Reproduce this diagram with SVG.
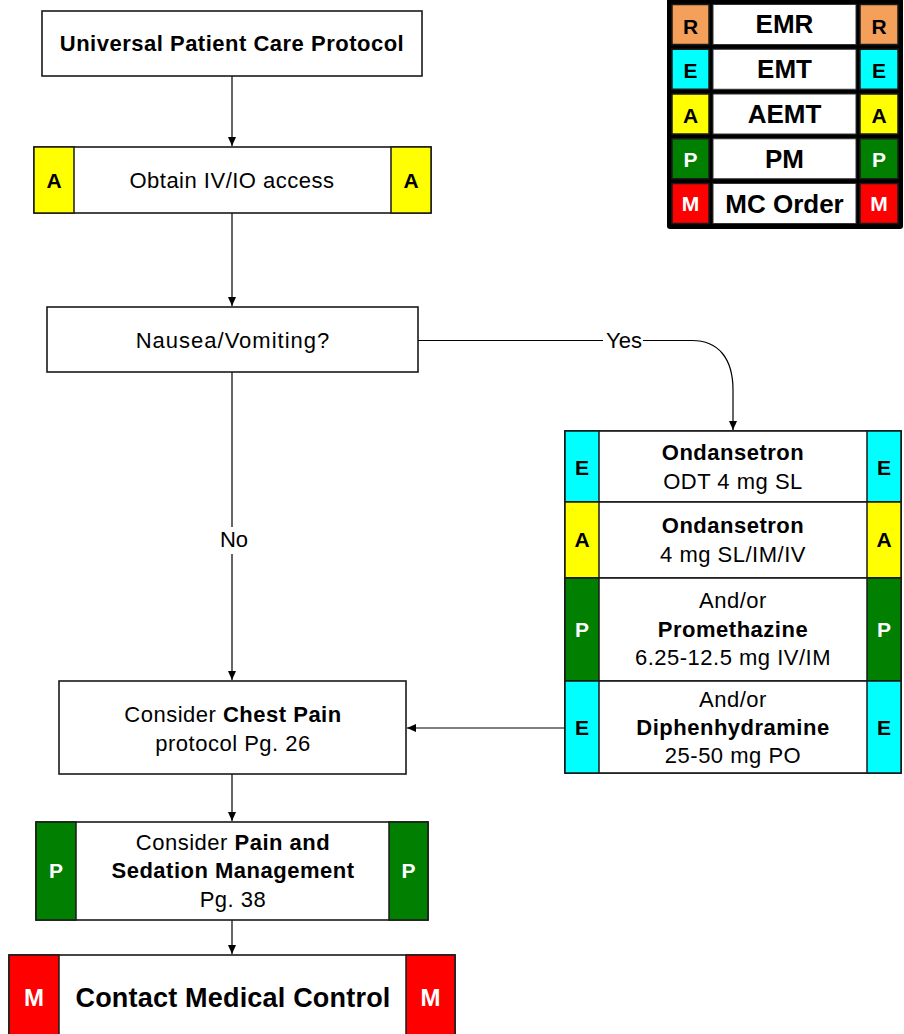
<svg xmlns="http://www.w3.org/2000/svg" width="904" height="1034" viewBox="0 0 904 1034">
<defs>
<marker id="ah" markerWidth="10" markerHeight="10" refX="9" refY="4" orient="auto" markerUnits="userSpaceOnUse">
<path d="M0,0 L9,4 L0,8 Z" fill="#000"/>
</marker>
<style>
text{font-family:"Liberation Sans",Arial,sans-serif;fill:#000;}
.t{font-size:22px;letter-spacing:0.5px;text-anchor:middle;}
.b{font-weight:bold;}
.box{fill:#fff;stroke:#1a1a1a;stroke-width:1.6;}
.bad{font-size:21px;font-weight:bold;text-anchor:middle;}
.w{fill:#fff;}
.cE{fill:#00FFFF;stroke:#1a1a1a;stroke-width:1.5;}
.cA{fill:#FFFF00;stroke:#1a1a1a;stroke-width:1.5;}
.cP{fill:#007F00;stroke:#1a1a1a;stroke-width:1.5;}
.cM{fill:#FF0000;stroke:#1a1a1a;stroke-width:1.5;}
.cR{fill:#F4A05A;stroke:#1a1a1a;stroke-width:1.5;}
.con{fill:none;stroke:#000;stroke-width:1.2;}
.lg{font-size:26px;font-weight:bold;text-anchor:middle;}
.lw{fill:#fff;stroke:#333;stroke-width:1;}
</style>
</defs>

<!-- Legend -->
<g id="legend">
<rect x="667" y="-4" width="236" height="233" rx="3" fill="#000"/>
<rect class="cR" x="672" y="4.5" width="37" height="40"/><rect class="lw" x="713" y="4.5" width="143" height="40"/><rect class="cR" x="860" y="4.5" width="38" height="40"/>
<text class="bad" x="690.5" y="33.5">R</text><text class="lg" x="784.5" y="32.5">EMR</text><text class="bad" x="879" y="33.5">R</text>
<rect class="cE" x="672" y="49.25" width="37" height="40"/><rect class="lw" x="713" y="49.25" width="143" height="40"/><rect class="cE" x="860" y="49.25" width="38" height="40"/>
<text class="bad" x="690.5" y="78">E</text><text class="lg" x="784.5" y="77.5">EMT</text><text class="bad" x="879" y="78">E</text>
<rect class="cA" x="672" y="94" width="37" height="40"/><rect class="lw" x="713" y="94" width="143" height="40"/><rect class="cA" x="860" y="94" width="38" height="40"/>
<text class="bad" x="690.5" y="122.5">A</text><text class="lg" x="784.5" y="122.5">AEMT</text><text class="bad" x="879" y="122.5">A</text>
<rect class="cP" x="672" y="138.75" width="37" height="40"/><rect class="lw" x="713" y="138.75" width="143" height="40"/><rect class="cP" x="860" y="138.75" width="38" height="40"/>
<text class="bad w" x="690.5" y="167">P</text><text class="lg" x="784.5" y="167.5">PM</text><text class="bad w" x="879" y="167">P</text>
<rect class="cM" x="672" y="183.5" width="37" height="40"/><rect class="lw" x="713" y="183.5" width="143" height="40"/><rect class="cM" x="860" y="183.5" width="38" height="40"/>
<text class="bad w" x="690.5" y="211">M</text><text class="lg" x="784.5" y="212.5">MC Order</text><text class="bad w" x="879" y="211">M</text>
</g>

<!-- Connectors -->
<g id="connectors">
<line class="con" x1="232" y1="76" x2="232" y2="146" marker-end="url(#ah)"/>
<line class="con" x1="232" y1="213" x2="232" y2="306" marker-end="url(#ah)"/>
<path class="con" d="M418,340.5 H603 M643,340.5 H692 C718,340.5 733,358 733,390 V430" marker-end="url(#ah)"/>
<text class="t" x="624" y="348" style="letter-spacing:0">Yes</text>
<path class="con" d="M232,372 V527 M232,554 V680" marker-end="url(#ah)"/>
<text class="t" x="234" y="547" style="letter-spacing:0">No</text>
<line class="con" x1="565" y1="728" x2="407" y2="728" marker-end="url(#ah)"/>
<line class="con" x1="232" y1="774" x2="232" y2="821" marker-end="url(#ah)"/>
<line class="con" x1="232" y1="920" x2="232" y2="954" marker-end="url(#ah)"/>
</g>

<g id="n-universal">
<rect class="box" x="42" y="11" width="380" height="65"/>
<text class="t b" x="232" y="51">Universal Patient Care Protocol</text>
</g>

<g id="n-iv">
<rect class="box" x="34" y="147" width="397" height="66"/>
<rect class="cA" x="34" y="147" width="40" height="66"/>
<rect class="cA" x="391" y="147" width="40" height="66"/>
<text class="bad" x="54" y="188">A</text>
<text class="bad" x="411" y="188">A</text>
<text class="t" x="232" y="188">Obtain IV/IO access</text>
</g>

<g id="n-nausea">
<rect class="box" x="47" y="307" width="371" height="65"/>
<text class="t" x="233" y="348" style="letter-spacing:1px">Nausea/Vomiting?</text>
</g>

<g id="n-meds">
<rect class="box" x="565" y="431" width="336" height="342"/>
<rect class="box" x="565" y="431" width="336" height="71"/>
<rect class="cE" x="565" y="431" width="34" height="71"/>
<rect class="cE" x="867" y="431" width="34" height="71"/>
<text class="bad" x="582" y="475">E</text><text class="bad" x="884" y="475">E</text>
<text class="t b" x="733" y="460">Ondansetron</text>
<text class="t" x="733" y="489">ODT 4 mg SL</text>

<rect class="box" x="565" y="502" width="336" height="76"/>
<rect class="cA" x="565" y="502" width="34" height="76"/>
<rect class="cA" x="867" y="502" width="34" height="76"/>
<text class="bad" x="582" y="547">A</text><text class="bad" x="884" y="547">A</text>
<text class="t b" x="733" y="533">Ondansetron</text>
<text class="t" x="733" y="562">4 mg SL/IM/IV</text>

<rect class="box" x="565" y="578" width="336" height="103"/>
<rect class="cP" x="565" y="578" width="34" height="103"/>
<rect class="cP" x="867" y="578" width="34" height="103"/>
<text class="bad w" x="582" y="637">P</text><text class="bad w" x="884" y="637">P</text>
<text class="t" x="733" y="608">And/or</text>
<text class="t b" x="733" y="637">Promethazine</text>
<text class="t" x="733" y="665">6.25-12.5 mg IV/IM</text>

<rect class="box" x="565" y="681" width="336" height="92"/>
<rect class="cE" x="565" y="681" width="34" height="92"/>
<rect class="cE" x="867" y="681" width="34" height="92"/>
<text class="bad" x="582" y="735">E</text><text class="bad" x="884" y="735">E</text>
<text class="t" x="733" y="707">And/or</text>
<text class="t b" x="733" y="735">Diphenhydramine</text>
<text class="t" x="733" y="763">25-50 mg PO</text>
</g>

<g id="n-chest">
<rect class="box" x="59" y="681" width="347" height="93"/>
<text class="t" x="233" y="722">Consider <tspan class="b">Chest Pain</tspan></text>
<text class="t" x="233" y="751">protocol Pg. 26</text>
</g>

<g id="n-pain">
<rect class="box" x="36" y="822" width="392" height="98"/>
<rect class="cP" x="36" y="822" width="40" height="98"/>
<rect class="cP" x="389" y="822" width="39" height="98"/>
<text class="bad w" x="56" y="878">P</text><text class="bad w" x="408.5" y="878">P</text>
<text class="t" x="233" y="850">Consider <tspan class="b">Pain and</tspan></text>
<text class="t b" x="233" y="878">Sedation Management</text>
<text class="t" x="233" y="907">Pg. 38</text>
</g>

<g id="n-contact">
<rect class="box" x="9" y="955" width="446" height="90"/>
<rect class="cM" x="9" y="955" width="50" height="90"/>
<rect class="cM" x="406" y="955" width="49" height="90"/>
<text class="bad w" x="34" y="1006" style="font-size:24px">M</text>
<text class="bad w" x="430.5" y="1006" style="font-size:24px">M</text>
<text x="233" y="1007" style="font-size:27px;font-weight:bold;text-anchor:middle;letter-spacing:0.2px">Contact Medical Control</text>
</g>
</svg>
